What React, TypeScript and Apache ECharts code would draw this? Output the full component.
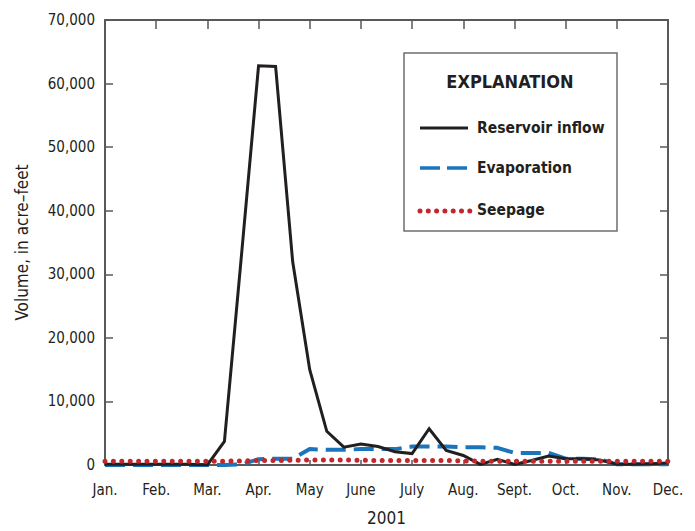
import React, { useEffect, useRef } from "react";
import * as echarts from "echarts";

// Month tick labels (one every third point; points are 1st, 11th and 21st of each month)
const monthLabels = ["Jan.", "Feb.", "Mar.", "Apr.", "May", "June", "July", "Aug.", "Sept.", "Oct.", "Nov.", "Dec."];

// Volumes in acre-feet, 2001, three points per month from Jan. 1 to Dec. 1
const reservoirInflow = [
  100, 100, 100, 100, 100, 100, 0, 3700, 33000, 62800, 62700, 32000, 15000, 5300, 2800, 3300, 2900,
  2100, 1800, 5700, 2300, 1500, 100, 900, 100, 700, 1400, 1000, 1000, 800, 100, 100, 200, 300,
];
const evaporation = [
  0, 0, 0, 0, 0, 0, 0, 0, 100, 900, 1000, 1000, 2500, 2400, 2400, 2500, 2500, 2500, 2900, 2900, 2900,
  2800, 2800, 2700, 1900, 1900, 1900, 1000, 1000, 900, 100, 100, 100, 100,
];
const seepage = [
  600, 600, 600, 600, 600, 600, 600, 600, 650, 700, 700, 750, 800, 800, 800, 750, 700, 700, 700, 700,
  700, 650, 600, 600, 600, 600, 600, 600, 600, 600, 600, 600, 600, 600,
];

const yTicks = { min: 0, max: 70000, interval: 10000 };

const FONT = "'Liberation Sans Narrow', 'Arial Narrow', 'DejaVu Sans Condensed', sans-serif";
const INK = "#231f20";
const AXIS = "#58595b";
const BLUE = "#1b75bc";
const RED = "#c1272d";

const toPairs = (arr: number[]) => arr.map((v, i) => [i, v]);

export default function App() {
  const ref = useRef<HTMLDivElement>(null);

  useEffect(() => {
    if (!ref.current) return;
    const chart = echarts.init(ref.current, undefined, { renderer: "svg" });
    const lastIndex = (monthLabels.length - 1) * 3;

    const legendText = (text: string, y: number) => ({
      type: "text",
      x: 477,
      y,
      style: {
        text,
        fontFamily: FONT,
        fontWeight: "bold",
        fontSize: 15.5,
        fill: INK,
        align: "left",
        verticalAlign: "middle",
      },
    });

    chart.setOption({
      animation: false,
      backgroundColor: "#ffffff",
      textStyle: { fontFamily: FONT, color: INK },
      grid: { left: 105, right: 27, top: 20, bottom: 64 },
      xAxis: [
        {
          type: "value",
          position: "bottom",
          min: 0,
          max: lastIndex,
          interval: 3,
          name: "2001",
          nameLocation: "middle",
          nameGap: 44,
          nameTextStyle: { fontFamily: FONT, fontSize: 17, color: INK },
          axisLine: { show: true, onZero: false, lineStyle: { color: AXIS, width: 2 } },
          axisTick: { show: true, inside: true, length: 5, lineStyle: { color: AXIS, width: 1.5 } },
          axisLabel: {
            margin: 17,
            fontFamily: FONT,
            fontSize: 15,
            color: INK,
            formatter: (v: number) => monthLabels[Math.round(v / 3)] ?? "",
          },
          splitLine: { show: false },
        },
        {
          type: "value",
          position: "top",
          min: 0,
          max: lastIndex,
          interval: 3,
          axisLine: { show: true, onZero: false, lineStyle: { color: AXIS, width: 2 } },
          axisTick: { show: true, inside: true, length: 9, lineStyle: { color: AXIS, width: 1.5 } },
          axisLabel: { show: false },
          splitLine: { show: false },
        },
      ],
      yAxis: [
        {
          type: "value",
          position: "left",
          ...yTicks,
          name: "Volume, in acre–feet",
          nameLocation: "middle",
          nameGap: 75,
          nameTextStyle: { fontFamily: FONT, fontSize: 17, color: INK },
          axisLine: { show: true, onZero: false, lineStyle: { color: AXIS, width: 2 } },
          axisTick: { show: true, inside: true, length: 8, lineStyle: { color: AXIS, width: 1.5 } },
          axisLabel: {
            margin: 10,
            fontFamily: FONT,
            fontSize: 15,
            color: INK,
            formatter: (v: number) => v.toLocaleString("en-US"),
          },
          splitLine: { show: false },
        },
        {
          type: "value",
          position: "right",
          ...yTicks,
          axisLine: { show: true, onZero: false, lineStyle: { color: AXIS, width: 2 } },
          axisTick: { show: true, inside: true, length: 8, lineStyle: { color: AXIS, width: 1.5 } },
          axisLabel: { show: false },
          splitLine: { show: false },
        },
      ],
      series: [
        {
          name: "Evaporation",
          type: "line",
          data: toPairs(evaporation),
          showSymbol: false,
          lineStyle: { color: BLUE, width: 4, type: [20, 8] },
          z: 2,
        },
        {
          name: "Reservoir inflow",
          type: "line",
          data: toPairs(reservoirInflow),
          showSymbol: false,
          lineStyle: { color: INK, width: 3, join: "miter" },
          z: 3,
        },
        {
          name: "Seepage",
          type: "line",
          data: toPairs(seepage),
          showSymbol: false,
          lineStyle: { color: RED, width: 5, type: [0, 8.4], cap: "round" },
          z: 4,
        },
      ],
      graphic: [
        {
          type: "group",
          z: 100,
          children: [
            {
              type: "rect",
              shape: { x: 404, y: 53, width: 213, height: 178 },
              style: { fill: "#ffffff", stroke: "#6d6e71", lineWidth: 1.5 },
            },
            {
              type: "text",
              x: 510,
              y: 81,
              style: {
                text: "EXPLANATION",
                fontFamily: FONT,
                fontWeight: "bold",
                fontSize: 18,
                fill: INK,
                align: "center",
                verticalAlign: "middle",
              },
            },
            {
              type: "line",
              shape: { x1: 420, y1: 128, x2: 468, y2: 128 },
              style: { stroke: INK, lineWidth: 3 },
            },
            legendText("Reservoir inflow", 128),
            {
              type: "line",
              shape: { x1: 420, y1: 168, x2: 468, y2: 168 },
              style: { stroke: BLUE, lineWidth: 3.5, lineDash: [20, 7] },
            },
            legendText("Evaporation", 168),
            {
              type: "line",
              shape: { x1: 420, y1: 211, x2: 471, y2: 211 },
              style: { stroke: RED, lineWidth: 5, lineDash: [0, 8.3], lineCap: "round" },
            },
            legendText("Seepage", 210),
          ],
        },
      ],
    });

    return () => chart.dispose();
  }, []);

  return (
    <div
      ref={ref}
      style={{ position: "fixed", left: 0, top: 0, width: 695, height: 531, background: "#ffffff" }}
    />
  );
}
